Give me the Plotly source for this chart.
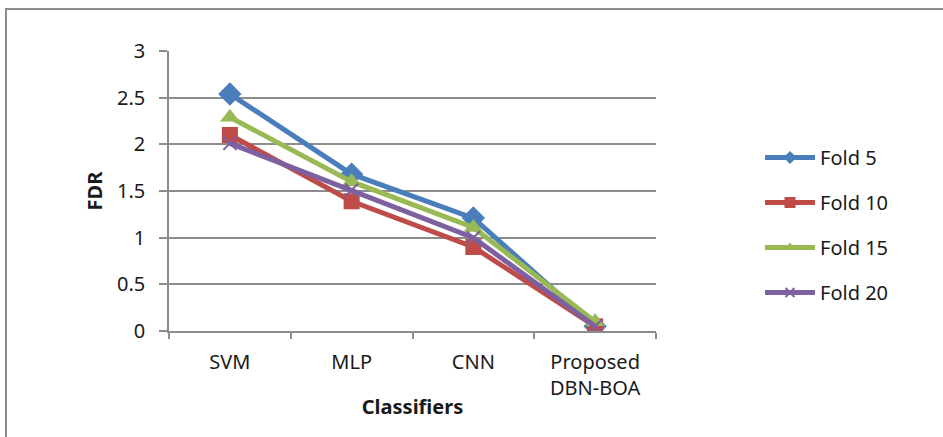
import plotly.graph_objects as go

# FDR per classifier for each cross-validation fold
classifiers = ["SVM", "MLP", "CNN", "Proposed<br>DBN-BOA"]
fold5 = [2.54, 1.68, 1.21, 0.05]
fold10 = [2.10, 1.39, 0.90, 0.05]
fold15 = [2.29, 1.60, 1.11, 0.10]
fold20 = [2.01, 1.51, 1.00, 0.05]
series_names = ["Fold 5", "Fold 10", "Fold 15", "Fold 20"]
y_ticks = [0, 0.5, 1, 1.5, 2, 2.5, 3]

colors = ["#4a7ebb", "#be4b48", "#98b954", "#7d60a0"]
symbols = ["diamond", "square", "triangle-up", "x-thin"]
sizes = [18, 16, 17, 13]
legend_sizes = [10, 11, 10, 9]

FONT = "Noto Sans"
TXT = "#1a1a1a"

fig = go.Figure()
series = [fold5, fold10, fold15, fold20]
for i, (name, vals, c, s) in enumerate(zip(series_names, series, colors, symbols)):
    marker = dict(symbol=s, size=sizes[i], color=c)
    if s == "x-thin":
        marker["line"] = dict(color=c, width=2)
    fig.add_trace(go.Scatter(
        x=classifiers, y=vals, name=name, mode="lines+markers",
        line=dict(color=c, width=5), marker=marker,
        showlegend=False, legendgroup=name,
    ))

# legend entries with smaller marker glyphs
for i, (name, c, s) in enumerate(zip(series_names, colors, symbols)):
    marker = dict(symbol=s, size=legend_sizes[i], color=c)
    if s == "x-thin":
        marker["line"] = dict(color=c, width=2)
    fig.add_trace(go.Scatter(
        x=[None], y=[None], name=name, mode="lines+markers",
        line=dict(color=c, width=5), marker=marker,
        showlegend=True, legendgroup=name,
    ))

grid = "#8c8c8c"
fig.update_layout(
    width=943, height=437,
    margin=dict(l=169, r=287, t=51, b=106),
    paper_bgcolor="white", plot_bgcolor="white",
    font=dict(family=FONT, size=20, color=TXT),
    legend=dict(
        x=(760 - 169) / 487, y=(331 - 225) / 280, xanchor="left", yanchor="middle",
        font=dict(family=FONT, size=20, color=TXT),
        tracegroupgap=16, itemwidth=50,
    ),
    xaxis=dict(
        type="category", range=[-0.5, 3.5],
        showgrid=False, showline=True, linecolor=grid, linewidth=1.5,
        ticks="outside", tickson="boundaries", ticklen=6, tickcolor=grid, tickwidth=1.5,
        ticklabelstandoff=12,
        title=dict(text="<b>Classifiers</b>", font=dict(family=FONT, size=20), standoff=0),
        tickfont=dict(family=FONT, size=20),
    ),
    yaxis=dict(
        range=[0, 3], tickvals=y_ticks, ticktext=[f"{v:g}" for v in y_ticks],
        showgrid=True, gridcolor=grid, gridwidth=1.5,
        showline=True, linecolor=grid, linewidth=1.5,
        ticks="outside", ticklen=8, tickcolor=grid, tickwidth=1.5,
        ticklabelstandoff=10,
        title=dict(text="<b>FDR</b>", font=dict(family=FONT, size=20), standoff=9),
        tickfont=dict(family=FONT, size=20),
        zeroline=False,
    ),
)

# chart-area frame
fig.add_shape(
    type="rect", xref="paper", yref="paper",
    x0=(6 - 169) / 487, x1=(960 - 169) / 487,
    y0=-(460 - 331) / 280, y1=(331 - 9) / 280,
    line=dict(color="#8c8c8c", width=2), fillcolor="rgba(0,0,0,0)", layer="below",
)

fig.write_html("out.html")
